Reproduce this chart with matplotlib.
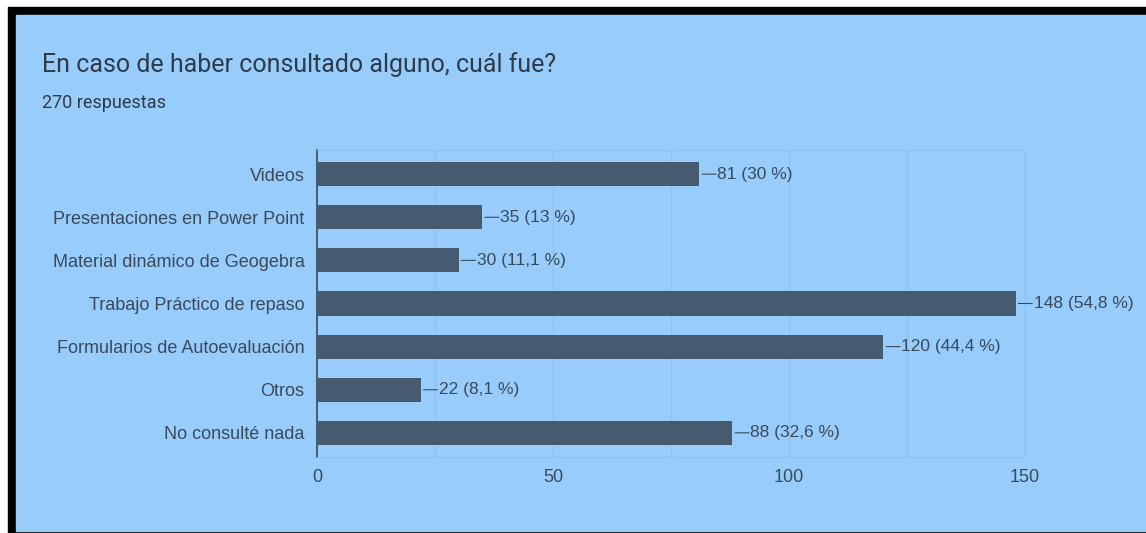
import matplotlib
matplotlib.use("Agg")
import matplotlib.pyplot as plt
from matplotlib.patches import Rectangle

# datos de la encuesta
categorias = [
    "Videos",
    "Presentaciones en Power Point",
    "Material dinámico de Geogebra",
    "Trabajo Práctico de repaso",
    "Formularios de Autoevaluación",
    "Otros",
    "No consulté nada",
]
respuestas = [81, 35, 30, 148, 120, 22, 88]
porcentajes = ["30 %", "13 %", "11,1 %", "54,8 %", "44,4 %", "8,1 %", "32,6 %"]
ticks_x = [0, 50, 100, 150]

W, H = 1146, 533
FONDO = "#98CDFB"
BARRA = "#465B6F"
TEXTO = "#3A4A5C"

fig = plt.figure(figsize=(W / 100, H / 100), dpi=100, facecolor="white")

def px(x0, y0, x1, y1):
    # rectangulo en pixeles (origen arriba a la izquierda) -> coords de figura
    return (x0 / W, 1 - y1 / H), (x1 - x0) / W, (y1 - y0) / H

xy, w, h = px(8, 7, W, H)
fig.patches.append(Rectangle(xy, w, h, transform=fig.transFigure, color="black", zorder=-2))
xy, w, h = px(16, 15, W, 531)
fig.patches.append(Rectangle(xy, w, h, transform=fig.transFigure, color=FONDO, zorder=-1))

fig.text(42 / W, 1 - 65 / H, "En caso de haber consultado alguno, cuál fue?",
         fontsize=18, family="Roboto", color="#2E3B4A", va="center")
fig.text(42 / W, 1 - 103 / H, "270 respuestas",
         fontsize=13, family="Roboto", color="#2E3B4A", va="center")

ax = fig.add_axes([317 / W, (H - 457) / H, (1025 - 317) / W, (457 - 150) / H])
ax.set_facecolor("none")

y = list(range(len(categorias)))
ax.barh(y, respuestas, height=0.56, color=BARRA, zorder=3)
ax.set_ylim(len(categorias) - 0.44, -0.56)
ax.set_xlim(0, 150)

for yi, v, p in zip(y, respuestas, porcentajes):
    ax.annotate("", xy=(v, yi), xytext=(13, 0), textcoords="offset points",
                arrowprops=dict(arrowstyle="-", color=TEXTO, lw=0.8,
                                shrinkA=1, shrinkB=2),
                annotation_clip=False)
    ax.annotate(f"{v} ({p})", xy=(v, yi), xytext=(13, 0), textcoords="offset points",
                va="center", ha="left", fontsize=12.5, family="Liberation Sans",
                color=TEXTO, annotation_clip=False)

ax.set_yticks(y)
ax.set_yticklabels(categorias, fontsize=13, family="Liberation Sans", color=TEXTO)
ax.set_xticks(ticks_x)
ax.set_xticklabels([str(t) for t in ticks_x], fontsize=13, family="Liberation Sans",
                   color=TEXTO)
ax.set_xticks([25, 75, 125], minor=True)
ax.tick_params(axis="both", which="both", length=0)
ax.tick_params(axis="x", pad=9)
ax.tick_params(axis="y", pad=9)

ax.grid(axis="x", which="both", color="#8DC0EA", lw=0.8, zorder=0)
for s in ["top", "right", "bottom"]:
    ax.spines[s].set_color("#8DC0EA")
    ax.spines[s].set_linewidth(0.8)
ax.spines["left"].set_color(TEXTO)
ax.spines["left"].set_linewidth(1.2)

fig.savefig("out.png", dpi=100, facecolor="white")
